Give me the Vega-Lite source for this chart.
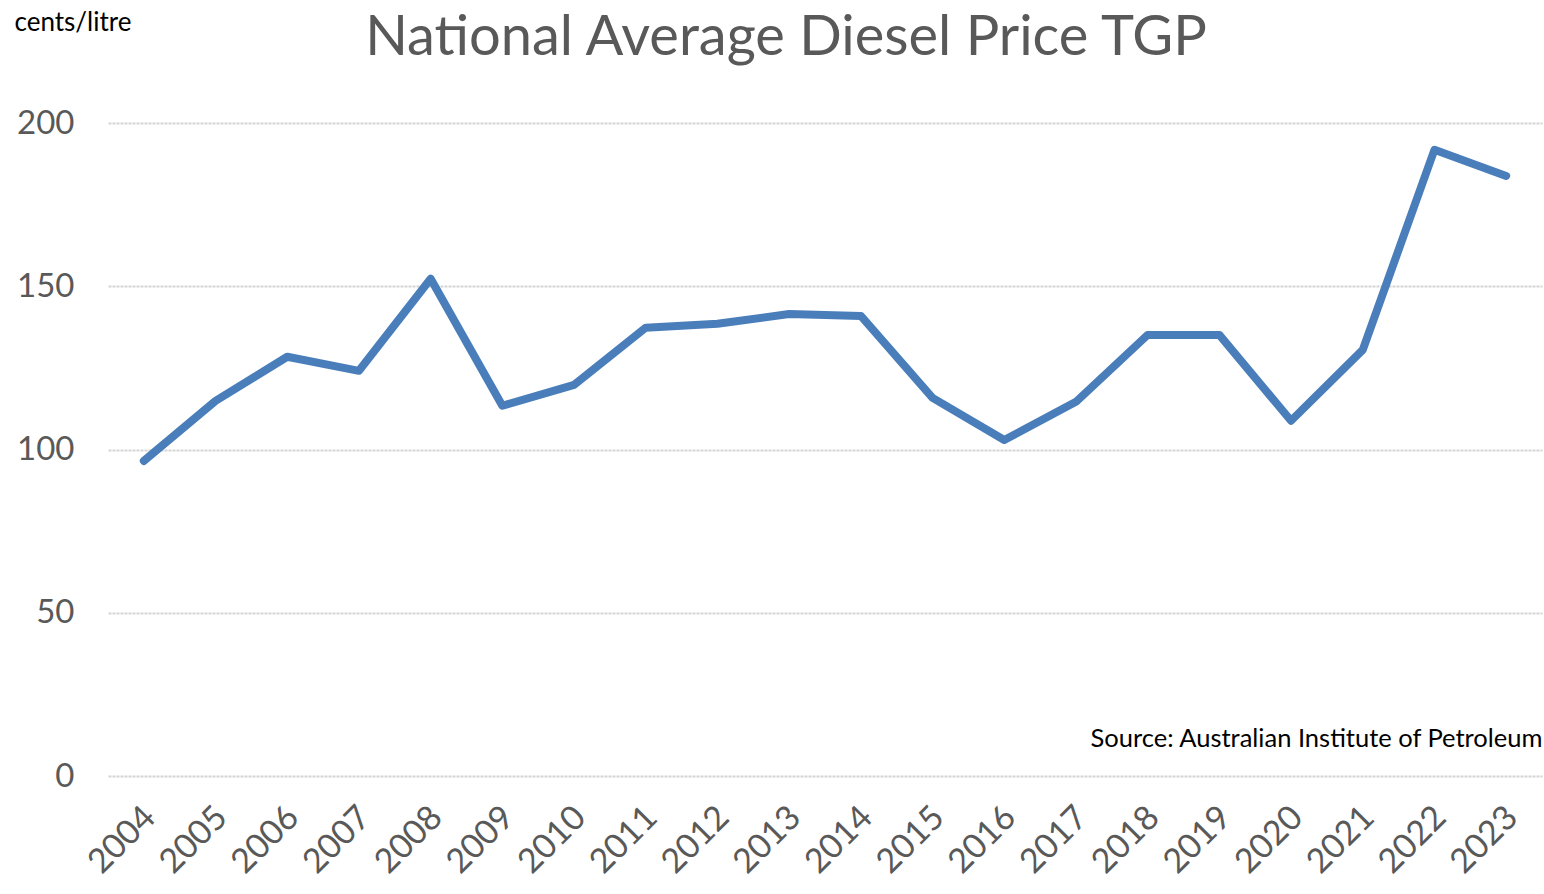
{
  "$schema": "https://vega.github.io/schema/vega-lite/v6.json",
  "width": 1434,
  "height": 653,
  "autosize": {"type": "none"},
  "padding": {"left": 108, "top": 123, "right": 2, "bottom": 118},
  "background": "white",
  "config": {"view": {"stroke": null}, "font": "Lato"},
  "title": {
    "text": "National Average Diesel Price TGP",
    "anchor": "middle",
    "frame": "group",
    "dx": -39,
    "offset": -58,
    "fontSize": 56,
    "fontWeight": "normal",
    "color": "#595959",
    "font": "Lato"
  },
  "data": {
    "values": [
      {"year": "2004", "price": 96.5},
      {"year": "2005", "price": 114.9},
      {"year": "2006", "price": 128.4},
      {"year": "2007", "price": 124.1},
      {"year": "2008", "price": 152.3},
      {"year": "2009", "price": 113.4},
      {"year": "2010", "price": 119.8},
      {"year": "2011", "price": 137.3},
      {"year": "2012", "price": 138.5},
      {"year": "2013", "price": 141.5},
      {"year": "2014", "price": 140.9},
      {"year": "2015", "price": 115.8},
      {"year": "2016", "price": 102.9},
      {"year": "2017", "price": 114.6},
      {"year": "2018", "price": 135.1},
      {"year": "2019", "price": 135.1},
      {"year": "2020", "price": 108.8},
      {"year": "2021", "price": 130.5},
      {"year": "2022", "price": 191.8},
      {"year": "2023", "price": 183.8}
    ]
  },
  "mark": {"type": "line", "color": "#4a7ebb", "strokeWidth": 8, "strokeCap": "round", "strokeJoin": "round"},
  "encoding": {
    "x": {
      "field": "year",
      "type": "ordinal",
      "scale": {"type": "point", "padding": 0.5},
      "axis": {
        "title": "Source: Australian Institute of Petroleum",
        "titleAnchor": "end",
        "titleAlign": "right",
        "titleX": 1434,
        "titleY": -50,
        "titleFontSize": 25.5,
        "titleFontWeight": "normal",
        "titleColor": "#000000",
        "titleFont": "Lato",
        "labelAngle": -45,
        "labelAlign": "right",
        "labelBaseline": "middle",
        "labelFontSize": 34,
        "labelColor": "#595959",
        "labelPadding": 36,
        "labelOffset": 6,
        "ticks": false,
        "domain": false,
        "grid": false
      }
    },
    "y": {
      "field": "price",
      "type": "quantitative",
      "scale": {"domain": [0, 200], "nice": false},
      "axis": {
        "values": [0, 50, 100, 150, 200],
        "title": "cents/litre",
        "titleAngle": 0,
        "titleAlign": "left",
        "titleBaseline": "middle",
        "titleX": -94,
        "titleY": -101,
        "titleFontSize": 26,
        "titleFontWeight": "normal",
        "titleColor": "#000000",
        "titleFont": "Lato",
        "labelFontSize": 33,
        "labelColor": "#595959",
        "labelPadding": 34,
        "ticks": false,
        "domain": false,
        "grid": true,
        "gridColor": "#d4d4d4",
        "gridWidth": 2,
        "gridDash": [3, 1]
      }
    }
  }
}
